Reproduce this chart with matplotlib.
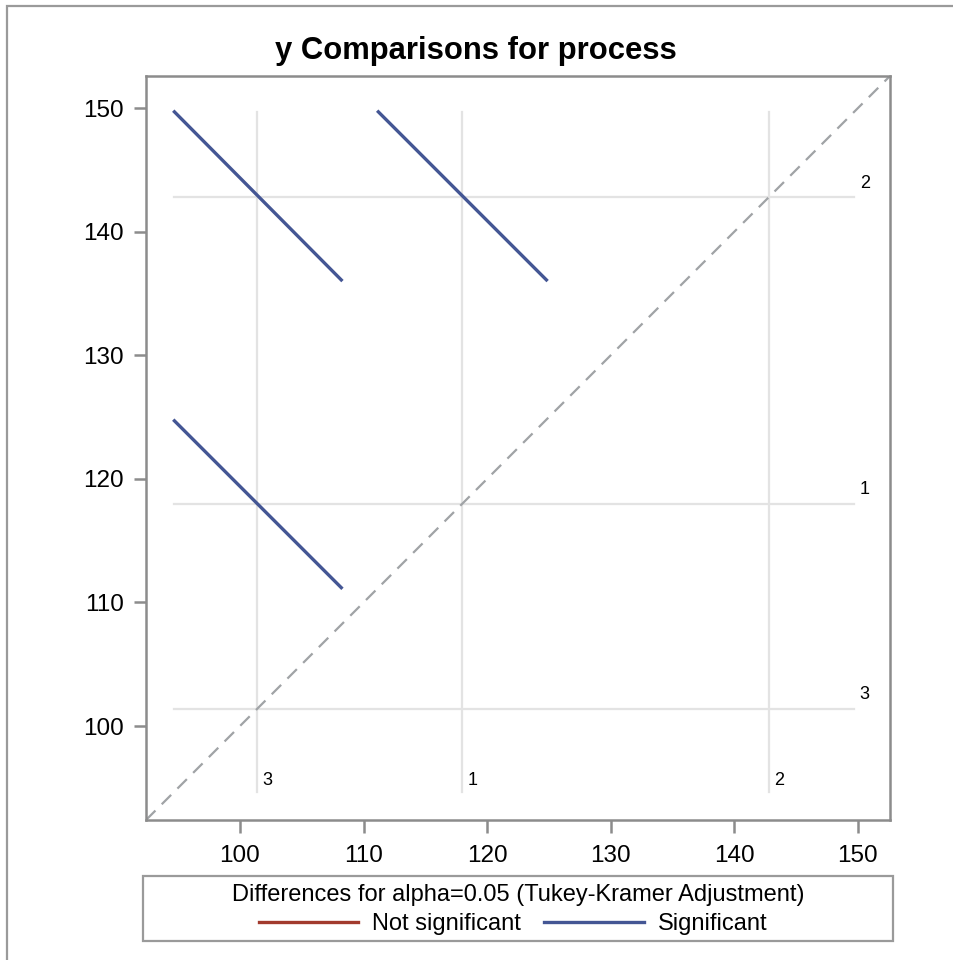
import matplotlib
matplotlib.use("Agg")
import matplotlib.pyplot as plt
from matplotlib.patches import Rectangle
from matplotlib.lines import Line2D

plt.rcParams['font.family'] = ['Liberation Sans', 'DejaVu Sans']

# group means (LS-means of y by process)
group_labels = ['1', '2', '3']
group_means = [118.0, 142.8, 101.4]

# diffogram segments (one per pair)
seg_x_start = [94.7, 111.2, 94.7]
seg_x_end = [108.2, 124.8, 108.2]
seg_y_start = [149.7, 149.7, 124.7]
seg_y_end = [136.1, 136.1, 111.2]
seg_significant = [True, True, True]

ref_lo, ref_hi = 94.7, 149.7
axis_lo, axis_hi = 92.4, 152.6
ticks = [100, 110, 120, 130, 140, 150]

blue = '#445694'
red = '#A23A2E'
frame_gray = '#8C8C8C'
ref_gray = '#E3E3E3'

fig = plt.figure(figsize=(9.54, 9.6), dpi=100)
ax = fig.add_axes([146/954, 140/960, 744/954, 744/960])

# reference lines at the means
for lab, m in zip(group_labels, group_means):
    ax.plot([m, m], [ref_lo, ref_hi], color=ref_gray, lw=1.6, zorder=1)
    ax.plot([ref_lo, ref_hi], [m, m], color=ref_gray, lw=1.6, zorder=1)
    ax.annotate(lab, (ref_hi, m), xytext=(4, 4), textcoords='offset points',
                ha='left', va='bottom', fontsize=13)
    ax.annotate(lab, (m, ref_lo), xytext=(4, 2), textcoords='offset points',
                ha='left', va='bottom', fontsize=13)

# diagonal
ax.plot([axis_lo, axis_hi], [axis_lo, axis_hi], color='#A0A3A6', lw=1.6,
        linestyle=(0, (6, 4)), zorder=2)

for x0, x1, y0, y1, sig in zip(seg_x_start, seg_x_end, seg_y_start, seg_y_end, seg_significant):
    ax.plot([x0, x1], [y0, y1], color=blue if sig else red, lw=2.4, zorder=3)

ax.set_xlim(axis_lo, axis_hi)
ax.set_ylim(axis_lo, axis_hi)
ax.set_xticks(ticks)
ax.set_yticks(ticks)
ax.tick_params(length=9, width=1.8, color=frame_gray, labelsize=17.5, pad=7)
ax.tick_params(axis='x', pad=9)
for sp in ax.spines.values():
    sp.set_color(frame_gray)
    sp.set_linewidth(1.8)

fig.text(476/954, 1 - 51/960, 'y Comparisons for process', ha='center', va='center',
         fontsize=22.3, fontweight='bold')

# legend box
fig.patches.append(Rectangle((143/954, 1 - 941/960), 750/954, 65/960, transform=fig.transFigure,
                             fill=False, edgecolor='#9A9A9A', lw=1.6))
fig.text(518/954, 1 - 895/960, 'Differences for alpha=0.05 (Tukey-Kramer Adjustment)',
         ha='center', va='center', fontsize=17)
handles = [Line2D([], [], color=red, lw=2.4), Line2D([], [], color=blue, lw=2.4)]
fig.legend(handles, ['Not significant', 'Significant'], ncol=2, frameon=False,
           loc='center', bbox_to_anchor=(513/954, 1 - 924/960), fontsize=17,
           handlelength=4.2, handletextpad=0.6, columnspacing=1.0)

# outer border
fig.patches.append(Rectangle((7/954, -0.1), 1.1, 1 - 6/960 + 0.1, transform=fig.transFigure,
                             fill=False, edgecolor='#9A9A9A', lw=1.6))

fig.savefig('out.png', dpi=100)
